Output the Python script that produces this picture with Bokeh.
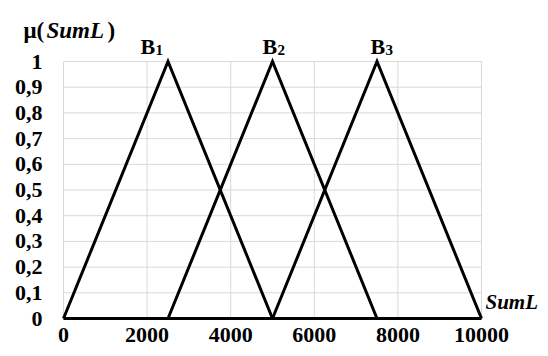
from bokeh.plotting import figure
from bokeh.models import Range1d
from bokeh.core.properties import value
from bokeh.embed import file_html
from bokeh.resources import INLINE

# ---- data ----
x_ticks = [0, 2000, 4000, 6000, 8000, 10000]
x_tick_labels = ["0", "2000", "4000", "6000", "8000", "10000"]
y_ticks = [0, 0.1, 0.2, 0.3, 0.4, 0.5, 0.6, 0.7, 0.8, 0.9, 1]
y_tick_labels = ["0", "0,1", "0,2", "0,3", "0,4", "0,5", "0,6", "0,7", "0,8", "0,9", "1"]

b1_x = [0, 2500, 5000]
b1_y = [0, 1, 0]
b2_x = [2500, 5000, 7500]
b2_y = [0, 1, 0]
b3_x = [5000, 7500, 10000]
b3_y = [0, 1, 0]

set_names = ["B", "B", "B"]
set_subs = ["1", "2", "3"]
set_label_x = [1842, 4761, 7344]   # left edge of each set label (data units)

FONT = value("Liberation Serif")
FS = value("22px")

X0, X1 = x_ticks[0], x_ticks[-1]
Y0, Y1 = y_ticks[0], y_ticks[-1]

p = figure(width=540, height=348, output_backend="svg", toolbar_location=None,
           x_range=Range1d(-1507.2, 11411.5), y_range=Range1d(-0.1167, 1.2374),
           x_axis_location=None, y_axis_location=None,
           min_border=0, min_border_left=0, min_border_right=0,
           min_border_top=0, min_border_bottom=0)
p.background_fill_color = "white"
p.border_fill_color = "white"
p.outline_line_color = None
p.grid.visible = False

# grid lines limited to the plot area
p.segment(x0=x_ticks, x1=x_ticks, y0=[Y0] * len(x_ticks), y1=[Y1] * len(x_ticks),
          line_color="#d9d9d9", line_width=1)
p.segment(x0=[X0] * len(y_ticks), x1=[X1] * len(y_ticks), y0=y_ticks, y1=y_ticks,
          line_color="#d9d9d9", line_width=1)

# x axis line
p.line([X0, X1], [Y0, Y0], line_color="black", line_width=3)

# tick labels
p.text(x=[X0] * len(y_ticks), y=y_ticks, text=y_tick_labels, x_offset=-21,
       text_align="right", text_baseline="middle", text_font=FONT,
       text_font_style="bold", text_font_size=FS, text_color="black")
p.text(x=x_ticks, y=[Y0] * len(x_ticks), text=x_tick_labels, y_offset=16,
       text_align="center", text_baseline="middle", text_font=FONT,
       text_font_style="bold", text_font_size=FS, text_color="black")

# membership functions
for xs, ys in [(b1_x, b1_y), (b2_x, b2_y), (b3_x, b3_y)]:
    p.line(xs, ys, line_color="black", line_width=3, line_join="miter")

# set labels B1, B2, B3
p.text(x=set_label_x, y=[Y1] * 3, text=set_names, y_offset=-15,
       text_align="left", text_baseline="alphabetic", text_font=FONT,
       text_font_style="bold", text_font_size=FS, text_color="black")
p.text(x=set_label_x, y=[Y1] * 3, text=set_subs, x_offset=15, y_offset=-12,
       text_align="left", text_baseline="alphabetic", text_font=FONT,
       text_font_style="bold", text_font_size=value("15px"), text_color="black")

# axis titles
TS = value("23px")
p.text(x=[X0], y=[Y1], text=["μ("], x_offset=-40, y_offset=-31,
       text_align="left", text_baseline="alphabetic", text_font=FONT,
       text_font_style="bold", text_font_size=TS, text_color="black")
p.text(x=[X0], y=[Y1], text=["SumL"], x_offset=-17, y_offset=-31,
       text_align="left", text_baseline="alphabetic", text_font=FONT,
       text_font_style="bold italic", text_font_size=TS, text_color="black")
p.text(x=[X0], y=[Y1], text=[")"], x_offset=44, y_offset=-31,
       text_align="left", text_baseline="alphabetic", text_font=FONT,
       text_font_style="bold", text_font_size=TS, text_color="black")
p.text(x=[X1], y=[Y0], text=["SumL"], x_offset=4, y_offset=-17,
       text_align="left", text_baseline="alphabetic", text_font=FONT,
       text_font_style="bold italic", text_font_size=value("21px"), text_color="black")

open("out.html", "w").write(file_html(p, INLINE))
